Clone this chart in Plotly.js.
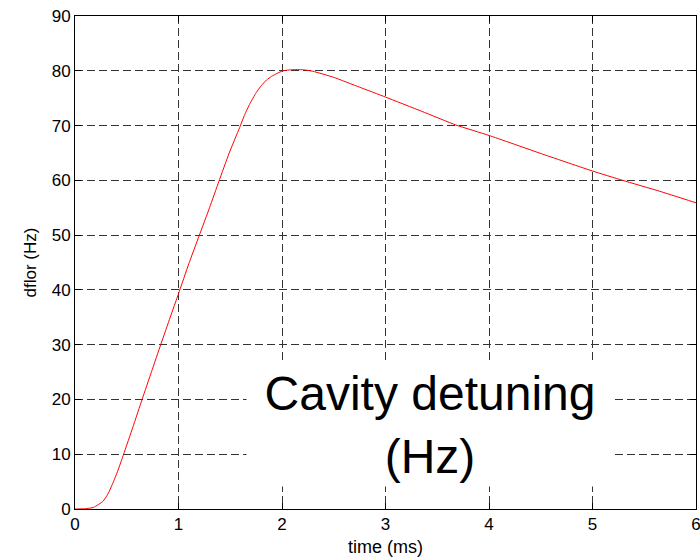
<!DOCTYPE html>
<html>
<head>
<meta charset="utf-8">
<script src="https://cdn.plot.ly/plotly-3.0.1.min.js"></script>
<style>html,body{margin:0;padding:0;background:#fff;}#chart{width:700px;height:560px;}</style>
</head>
<body>
<div id="chart"></div>
<script>
const timeMs = [0, 0.1, 0.18, 0.27, 0.32, 0.37, 0.42, 0.47, 0.56, 0.65, 0.74, 0.83, 0.92, 1.0, 1.1, 1.2, 1.3, 1.39, 1.49, 1.59, 1.64, 1.69, 1.75, 1.8, 1.85, 1.9, 1.95, 2.01, 2.1, 2.2, 2.3, 2.5, 2.75, 3.0, 3.35, 3.68, 4.0, 4.5, 5.0, 5.29, 5.65, 6.0];
const dflor = [0, 0.05, 0.3, 1.4, 2.8, 4.9, 7.3, 10.0, 15.0, 20.1, 25.1, 30.1, 35.0, 39.3, 44.8, 49.9, 55.0, 59.8, 65.0, 69.6, 72.0, 74.0, 76.0, 77.3, 78.3, 79.0, 79.5, 80.0, 80.2, 80.2, 79.9, 78.8, 77.0, 75.2, 72.6, 70.1, 68.2, 64.9, 61.7, 60.0, 58.0, 55.9];
const xTicks = [0, 1, 2, 3, 4, 5, 6];
const yTicks = [0, 10, 20, 30, 40, 50, 60, 70, 80, 90];
const xLabel = 'time (ms)';
const yLabel = 'dflor (Hz)';
const noteText = 'Cavity detuning<br>(Hz)';

const FONT = 'Liberation Sans, Arial, sans-serif';
const axisCommon = {
  showline: true, linecolor: '#000', linewidth: 1, mirror: 'ticks',
  ticks: 'inside', ticklen: 6, tickcolor: '#000',
  showgrid: true, gridcolor: '#333333', gridwidth: 1, griddash: '8px,4px',
  zeroline: false, ticklabeloverflow: 'allow',
  tickfont: {family: FONT, size: 17, color: '#000'}
};

const trace = {
  x: timeMs, y: dflor, type: 'scatter', mode: 'lines',
  line: {color: '#ff0000', width: 1, shape: 'spline', smoothing: 0.4}, hoverinfo: 'skip', cliponaxis: false
};

const layout = {
  width: 700, height: 560,
  margin: {l: 75, r: 4, t: 16, b: 51},
  paper_bgcolor: '#fff', plot_bgcolor: '#fff',
  showlegend: false,
  xaxis: Object.assign({}, axisCommon, {
    range: [0, 6], tickvals: xTicks, ticktext: xTicks.map(String),
    title: {text: xLabel, standoff: 6, font: {family: FONT, size: 18, color: '#000'}}
  }),
  yaxis: Object.assign({}, axisCommon, {
    range: [0, 90], tickvals: yTicks, ticktext: yTicks.map(String),
    title: {text: yLabel, standoff: 10, font: {family: FONT, size: 17, color: '#000'}}
  }),
  annotations: [{
    x: 3.43, y: 15.4, xref: 'x', yref: 'y', text: noteText, showarrow: false,
    font: {family: FONT, size: 48, color: '#000'},
    bgcolor: '#ffffff', width: 362, height: 118, borderpad: 2, align: 'center', valign: 'middle'
  }]
};

Plotly.newPlot('chart', [trace], layout, {displayModeBar: false, staticPlot: true});
</script>
</body>
</html>
